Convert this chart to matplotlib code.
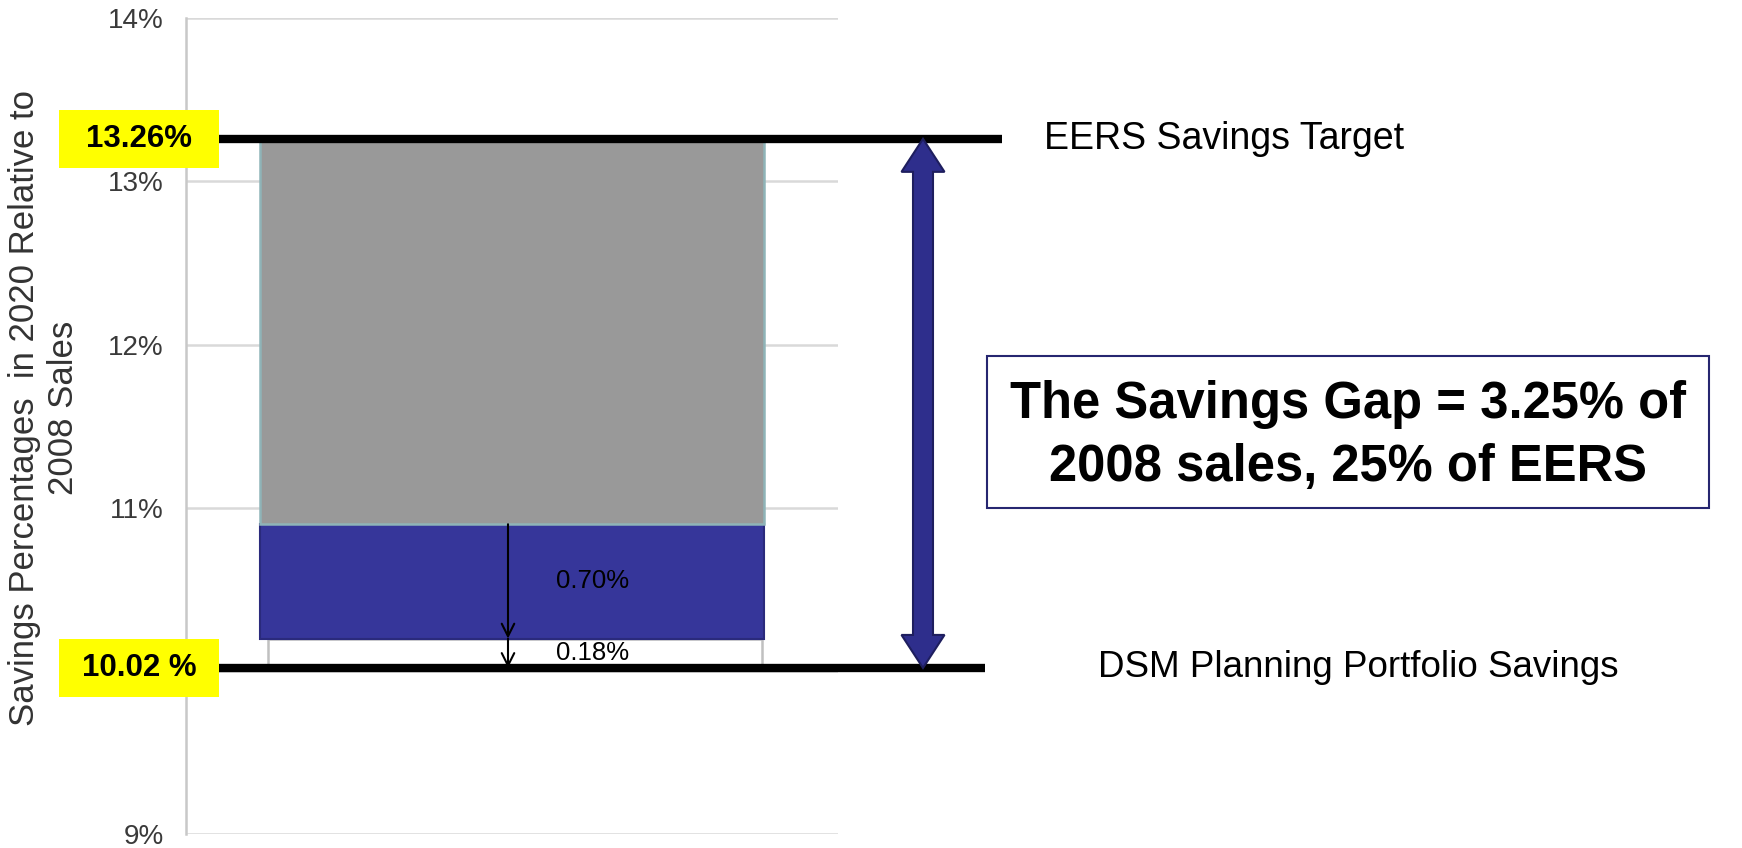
import matplotlib
matplotlib.use("Agg")
import matplotlib.pyplot as plt
from matplotlib.patches import Rectangle, Polygon

plt.rcParams['font.family'] = ['Liberation Sans', 'DejaVu Sans']

# values (% of 2008 sales)
dsm_savings = 10.02
eers_target = 13.26
seg_labels = ["0.18%", "0.70%"]
seg_heights = [0.18, 0.70]
gap_text = "The Savings Gap = 3.25% of\n2008 sales, 25% of EERS"
y_ticks = [9, 10, 11, 12, 13, 14]
y_tick_labels = ["9%", "", "11%", "12%", "13%", "14%"]

W, H = 1742, 848
fig = plt.figure(figsize=(W / 100, H / 100), dpi=100)
ax = fig.add_axes([186 / W, 0.01592, 652 / W, 0.96285])


def fx(px):
    # pixel column -> x data (axis spans 0..1)
    return (px - 186) / 652.0


ax.set_xlim(0, 1)
ax.set_ylim(9, 14)
ax.set_yticks(y_ticks)
ax.set_yticklabels(y_tick_labels)
ax.set_xticks([])
ax.tick_params(axis='y', length=0, pad=16, labelsize=20, labelcolor='#3a3a3a')
for s in ['top', 'right', 'bottom']:
    ax.spines[s].set_visible(False)
ax.spines['left'].set_color('#c8c8c8')
ax.spines['left'].set_linewidth(1.8)
ax.yaxis.grid(True, color='#d9d9d9', lw=1.8)
ax.set_axisbelow(True)

# stacked bar
lo = dsm_savings
mid = lo + seg_heights[0]
top_blue = mid + seg_heights[1]
ax.bar(0.5045, seg_heights[0], bottom=lo, width=0.757, facecolor='none',
       edgecolor='#c0c0c0', lw=1.8, zorder=2)
ax.bar(0.5, seg_heights[1], bottom=mid, width=0.772, color='#36369a',
       edgecolor='#2a2a7c', lw=1.5, zorder=3)
ax.bar(0.5, eers_target - top_blue, bottom=top_blue, width=0.772, color='#999999',
       edgecolor='#8fb4b8', lw=1.8, zorder=3)

# target and portfolio lines
ax.plot([fx(219), fx(1002)], [eers_target] * 2, color='black', lw=6,
        solid_capstyle='butt', clip_on=False, zorder=5)
ax.plot([fx(219), fx(985)], [dsm_savings] * 2, color='black', lw=6,
        solid_capstyle='butt', clip_on=False, zorder=5)

# yellow value boxes
bh = 58 / 163.3
for v, t in [(eers_target, "13.26%"), (dsm_savings, "10.02 %")]:
    ax.add_patch(Rectangle((fx(59), v - bh / 2), fx(219) - fx(59), bh,
                           facecolor='#ffff00', edgecolor='none', clip_on=False, zorder=6))
    ax.text((fx(59) + fx(219)) / 2, v, t, ha='center', va='center', fontsize=22.5,
            fontweight='bold', color='black', clip_on=False, zorder=7)

ax.text(fx(1044), eers_target, "EERS Savings Target", fontsize=27, ha='left',
        va='center', clip_on=False)
ax.text(fx(1098), dsm_savings, "DSM Planning Portfolio Savings", fontsize=26.5,
        ha='left', va='center', clip_on=False)

# thin arrows with segment labels
xa = fx(508)
ax.annotate("", xy=(xa, mid), xytext=(xa, top_blue),
            arrowprops=dict(arrowstyle='->,head_length=0.9,head_width=0.45', lw=1.5,
                            color='black', shrinkA=0, shrinkB=0), zorder=8)
ax.annotate("", xy=(xa, lo), xytext=(xa, mid),
            arrowprops=dict(arrowstyle='->,head_length=0.9,head_width=0.45', lw=1.5,
                            color='black', shrinkA=0, shrinkB=0), zorder=8)
ax.text(fx(556), (mid + top_blue) / 2, seg_labels[1], fontsize=18.5, ha='left',
        va='center', zorder=8)
ax.text(fx(556), (lo + mid) / 2, seg_labels[0], fontsize=18.5, ha='left',
        va='center', zorder=8)

# big double-headed gap arrow
xc = fx(923)
hs = 10 / 652.0
hh = 21.5 / 652.0
hl = 33 / 163.3
pts = [(xc, eers_target), (xc + hh, eers_target - hl), (xc + hs, eers_target - hl),
       (xc + hs, dsm_savings + hl), (xc + hh, dsm_savings + hl), (xc, dsm_savings),
       (xc - hh, dsm_savings + hl), (xc - hs, dsm_savings + hl),
       (xc - hs, eers_target - hl), (xc - hh, eers_target - hl)]
ax.add_patch(Polygon(pts, closed=True, facecolor='#2e2e8c', edgecolor='#1e1e5e',
                     lw=1.5, clip_on=False, zorder=6))

# gap text box
fig.add_artist(Rectangle((987 / W, 1 - 508 / H), (1709 - 987) / W, (508 - 356) / H,
                         transform=fig.transFigure, facecolor='white',
                         edgecolor='#262670', lw=1.5))
fig.text(1348 / W, 1 - 436 / H, gap_text, ha='center', va='center', fontsize=36.5,
         fontweight='bold', linespacing=1.38)

fig.text(44 / W, 1 - 408 / H, "Savings Percentages  in 2020 Relative to\n2008 Sales",
         rotation=90, ha='center', va='center', fontsize=25, color='#333333',
         multialignment='center', linespacing=1.25)

fig.savefig("out.png", dpi=100)
